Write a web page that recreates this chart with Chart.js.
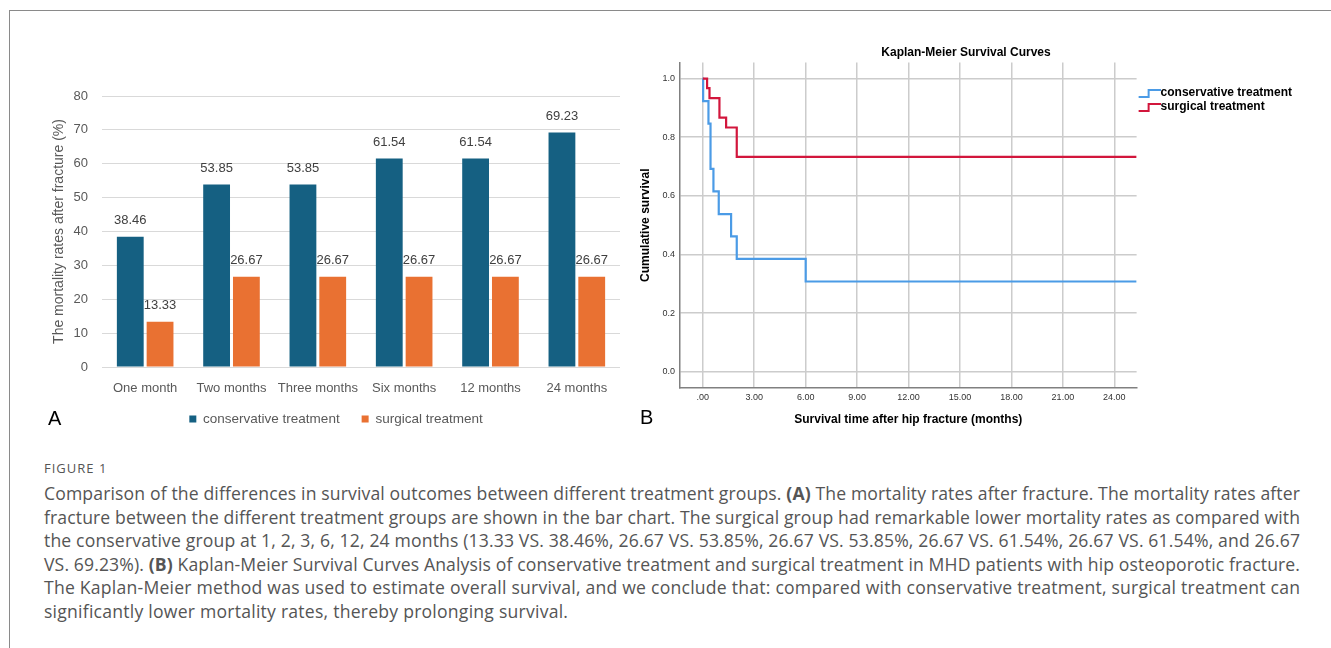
<!DOCTYPE html>
<html>
<head>
<meta charset="utf-8">
<script src="https://cdn.jsdelivr.net/npm/chart.js@4.4.0/dist/chart.umd.min.js"></script>
<style>
  body { margin: 0; background: #fff; width: 1331px; height: 648px; overflow: hidden; position: relative; font-family: "Liberation Sans", Arial, sans-serif; }
  #frame { position: absolute; left: 9px; top: 10px; width: 1340px; height: 660px; border-left: 1px solid #8a8a8a; border-top: 1px solid #8a8a8a; }
  #barChart { position: absolute; left: 30px; top: 60px; }
  #kmChart { position: absolute; left: 630px; top: 30px; }
  .panel { position: absolute; font-size: 20px; color: #000; line-height: 20px; }
  #caption { position: absolute; left: 44px; top: 458px; font-family: "Open Sans", "Noto Sans", sans-serif; color: #555; }
  #caption .fig { font-size: 13px; letter-spacing: 1px; height: 24px; line-height: 20px; }
  #caption .ln { font-size: 17.6px; line-height: 23.5px; height: 23.5px; white-space: nowrap; }
</style>
</head>
<body>
<div id="frame"></div>
<canvas id="barChart" width="610" height="380"></canvas>
<canvas id="kmChart" width="701" height="410"></canvas>
<div class="panel" style="left:48px; top:408px;">A</div>
<div class="panel" style="left:640px; top:407px;">B</div>
<div id="caption">
  <div class="fig">FIGURE 1</div>
  <div class="ln" data-w="1256">Comparison of the differences in survival outcomes between different treatment groups. <b>(A)</b> The mortality rates after fracture. The mortality rates after</div>
  <div class="ln" data-w="1256">fracture between the different treatment groups are shown in the bar chart. The surgical group had remarkable lower mortality rates as compared with</div>
  <div class="ln" data-w="1256">the conservative group at 1, 2, 3, 6, 12, 24 months (13.33 VS. 38.46%, 26.67 VS. 53.85%, 26.67 VS. 53.85%, 26.67 VS. 61.54%, 26.67 VS. 61.54%, and 26.67</div>
  <div class="ln" data-w="1256">VS. 69.23%). <b>(B)</b> Kaplan-Meier Survival Curves Analysis of conservative treatment and surgical treatment in MHD patients with hip osteoporotic fracture.</div>
  <div class="ln" data-w="1256">The Kaplan-Meier method was used to estimate overall survival, and we conclude that: compared with conservative treatment, surgical treatment can</div>
  <div class="ln" data-w="524">significantly lower mortality rates, thereby prolonging survival.</div>
</div>
<script>
// panel A data
const months = ["One month", "Two months", "Three months", "Six months", "12 months", "24 months"];
const conservativeMortality = [38.46, 53.85, 53.85, 61.54, 61.54, 69.23];
const surgicalMortality = [13.33, 26.67, 26.67, 26.67, 26.67, 26.67];
const mortalityTicks = [0, 10, 20, 30, 40, 50, 60, 70, 80];

// panel B data (Kaplan-Meier steps)
const conservativeTime = [0, 0.02, 0.33, 0.45, 0.62, 0.93, 1.65, 1.98, 6.0, 25.3];
const conservativeSurvival = [1.0, 0.923, 0.846, 0.692, 0.615, 0.538, 0.462, 0.385, 0.308, 0.308];
const surgicalTime = [0, 0.25, 0.39, 0.97, 1.36, 1.98, 25.3];
const surgicalSurvival = [1.0, 0.967, 0.933, 0.867, 0.833, 0.733, 0.733];
const timeTicks = [0, 3, 6, 9, 12, 15, 18, 21, 24];
const timeTickLabels = [".00", "3.00", "6.00", "9.00", "12.00", "15.00", "18.00", "21.00", "24.00"];
const survivalTicks = [0, 0.2, 0.4, 0.6, 0.8, 1.0];
const survivalTickLabels = ["0.0", "0.2", "0.4", "0.6", "0.8", "1.0"];

// stretch caption lines to the widths they have in the figure
document.querySelectorAll("#caption .ln").forEach(el => {
  el.style.display = "inline-block";
  const w = el.getBoundingClientRect().width;
  el.style.display = "block";
  const n = el.textContent.length - 1;
  el.style.letterSpacing = ((+el.dataset.w - w) / n) + "px";
});

Chart.defaults.font.family = '"Liberation Sans", Arial, sans-serif';

// numbers above the bars
const valueLabels = {
  id: "valueLabels",
  afterDatasetsDraw(chart) {
    const ctx = chart.ctx;
    ctx.save();
    ctx.font = '13px "Liberation Sans", Arial, sans-serif';
    ctx.fillStyle = "#404040";
    ctx.textAlign = "center";
    ctx.textBaseline = "middle";
    chart.data.datasets.forEach((ds, i) => {
      chart.getDatasetMeta(i).data.forEach((bar, j) => {
        ctx.fillText(ds.data[j].toFixed(2), bar.x, bar.y - 16);
      });
    });
    ctx.restore();
  }
};

new Chart(document.getElementById("barChart"), {
  type: "bar",
  data: {
    labels: months,
    datasets: [
      { label: "conservative treatment", data: conservativeMortality, backgroundColor: "#156082" },
      { label: "surgical treatment", data: surgicalMortality, backgroundColor: "#E97132" }
    ]
  },
  options: {
    responsive: false,
    animation: false,
    categoryPercentage: 0.69,
    barPercentage: 0.9,
    layout: { padding: { top: 36, right: 20, left: 22, bottom: 4.25 } },
    scales: {
      x: {
        grid: { display: false, drawTicks: false },
        border: { display: false },
        ticks: { color: "#595959", font: { size: 13 }, padding: 13.5 },
        afterFit: s => { s.height = 27; }
      },
      y: {
        min: 0,
        max: 80,
        afterBuildTicks: s => { s.ticks = mortalityTicks.map(v => ({ value: v })); },
        grid: { color: "#d9d9d9", drawTicks: false },
        border: { display: false },
        ticks: { color: "#595959", font: { size: 13 }, padding: 14 },
        title: { display: true, text: "The mortality rates after fracture (%)", color: "#595959", font: { size: 14 }, padding: { top: -1.4, bottom: 0 } },
        afterFit: s => { s.width = 50; }
      }
    },
    plugins: {
      legend: {
        position: "bottom",
        title: { display: true, text: "", font: { size: 1 }, padding: { top: -4.95, bottom: 0 } },
        labels: { boxWidth: 7, boxHeight: 7, color: "#595959", font: { size: 13.5 }, padding: 22 }
      },
      tooltip: { enabled: false }
    }
  },
  plugins: [valueLabels]
});

// little step icons for the survival legend
function stepIcon(color) {
  const c = document.createElement("canvas");
  c.width = 28;
  c.height = 12;
  const g = c.getContext("2d");
  g.strokeStyle = color;
  g.lineWidth = 2;
  g.beginPath();
  g.moveTo(6, 10);
  g.lineTo(16, 10);
  g.lineTo(16, 3);
  g.lineTo(28, 3);
  g.stroke();
  return c;
}

const lineColors = ["#4b9be6", "#d2163c"];
const icons = lineColors.map(stepIcon);

new Chart(document.getElementById("kmChart"), {
  type: "line",
  data: {
    datasets: [
      {
        label: "conservative treatment",
        data: conservativeTime.map((t, i) => ({ x: t, y: conservativeSurvival[i] })),
        borderColor: lineColors[0],
        borderWidth: 2.2,
        stepped: "before",
        pointRadius: 0,
        fill: false,
        order: 1
      },
      {
        label: "surgical treatment",
        data: surgicalTime.map((t, i) => ({ x: t, y: surgicalSurvival[i] })),
        borderColor: lineColors[1],
        borderWidth: 2.2,
        stepped: "before",
        pointRadius: 0,
        fill: false,
        order: 0
      }
    ]
  },
  options: {
    responsive: false,
    animation: false,
    layout: { padding: { top: 0, right: 29, left: 0, bottom: 0 } },
    scales: {
      x: {
        type: "linear",
        min: -1.33,
        max: 25.3,
        afterBuildTicks: s => { s.ticks = timeTicks.map(v => ({ value: v })); },
        grid: { color: "#cccccc", lineWidth: 1.5, drawTicks: false },
        border: { color: "#808080", width: 1.5 },
        ticks: { color: "#333", font: { size: 9 }, padding: 4.6, callback: v => timeTickLabels[timeTicks.indexOf(v)] },
        title: { display: true, text: "Survival time after hip fracture (months)", color: "#000", font: { size: 12, weight: "bold" }, padding: { top: 0, bottom: 12.8 } },
        afterFit: s => { s.height = 52; }
      },
      y: {
        min: -0.055,
        max: 1.055,
        afterBuildTicks: s => { s.ticks = survivalTicks.map(v => ({ value: v })); },
        grid: { color: "#cccccc", lineWidth: 1.5, drawTicks: false },
        border: { color: "#808080", width: 1.5 },
        ticks: { color: "#333", font: { size: 9 }, padding: 5, callback: v => survivalTickLabels[survivalTicks.indexOf(v)] },
        title: { display: true, text: "Cumulative survival", color: "#000", font: { size: 12, weight: "bold" }, padding: { top: 8.8, bottom: 0 } },
        afterFit: s => { s.width = 50; }
      }
    },
    plugins: {
      title: {
        display: true,
        text: "Kaplan-Meier Survival Curves",
        color: "#000",
        font: { size: 12, weight: "bold" },
        padding: { top: 15, bottom: 3 }
      },
      legend: {
        position: "right",
        align: "start",
        title: { display: true, text: "", font: { size: 1 }, padding: { top: 53.8, bottom: 0 } },
        labels: {
          usePointStyle: true,
          pointStyleWidth: 16,
          color: "#000",
          font: { size: 12, weight: "bold" },
          padding: 2,
          generateLabels: chart => Chart.defaults.plugins.legend.labels.generateLabels(chart)
            .sort((a, b) => a.datasetIndex - b.datasetIndex)
            .map(item => ({ ...item, pointStyle: icons[item.datasetIndex] }))
        }
      },
      tooltip: { enabled: false }
    }
  }
});
</script>
</body>
</html>
